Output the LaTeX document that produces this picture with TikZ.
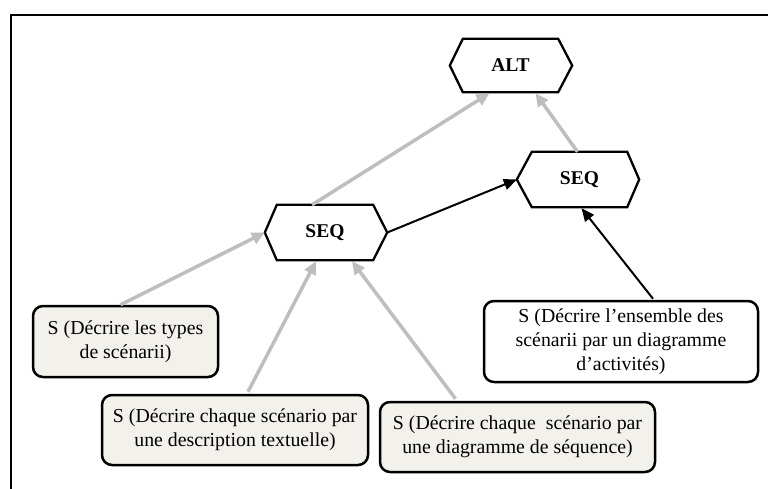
\documentclass[tikz,border=0pt]{standalone}
\usepackage{fontspec}
\setmainfont{Liberation Serif}
\usetikzlibrary{arrows.meta,calc,backgrounds}
\definecolor{boxfill}{HTML}{F2F1EC}
\definecolor{arrgrey}{HTML}{BEBEBE}
\tikzset{
  hexlabel/.style={rectangle,draw=none,inner sep=0pt,font=\fontsize{19.5}{23}\selectfont\bfseries},
  hexline/.style={draw=black,line width=2.3pt,line join=miter,fill=white},
  taskbox/.style={rectangle,rounded corners=10pt,draw=black,line width=2.5pt,fill=boxfill,
    align=center,inner sep=2pt,font=\fontsize{19.8}{24}\selectfont},
  greyarrow/.style={draw=arrgrey,line width=3.5pt,-{Triangle[length=13pt,width=12pt]}},
  blackarrow/.style={draw=black,line width=2pt,-{Triangle[length=13pt,width=11pt]}},
}
\begin{document}
\begin{tikzpicture}[x=1pt,y=-1pt]
\useasboundingbox (0,0) rectangle (768,488);
\begin{scope}
\clip (0,0) rectangle (768,488);
\draw[line width=2.5pt] (11,500) -- (11,15) -- (780,15);
\end{scope}

% hexagon label nodes
\node[hexlabel,minimum width=95pt,minimum height=53pt] (alt) at (510.5,65.5) {ALT};
\node[hexlabel,minimum width=96pt,minimum height=55pt] (seqa) at (325,232.5) {SEQ};
\node[hexlabel,minimum width=95pt,minimum height=55pt] (seqb) at (579.5,179.5) {SEQ};

% hexagon tips
\coordinate (altL) at ($(alt.west)+(-13,0)$);
\coordinate (altR) at ($(alt.east)+(14,0)$);
\coordinate (seqaL) at ($(seqa.west)+(-12,0)$);
\coordinate (seqaR) at ($(seqa.east)+(14,0)$);
\coordinate (seqbL) at ($(seqb.west)+(-15,0)$);
\coordinate (seqbR) at ($(seqb.east)+(12,0)$);

\begin{scope}[on background layer]
\foreach \n/\l/\r in {alt/altL/altR, seqa/seqaL/seqaR, seqb/seqbL/seqbR}{
  \draw[hexline] (\n.north west) -- (\n.north east) -- (\r) -- (\n.south east) -- (\n.south west) -- (\l) -- cycle;
}
\end{scope}

% boxes
\node[taskbox,minimum width=185pt,minimum height=71pt] (b1) at (125.5,341.5) {S (Décrire les types\\de scénarii)};
\node[taskbox,minimum width=266pt,minimum height=70pt] (b2) at (235,430) {S (Décrire chaque scénario par\\une description textuelle)};
\node[taskbox,minimum width=275pt,minimum height=70pt] (b3) at (517.5,437) {S (Décrire chaque\ \ scénario par\\une diagramme de séquence)};
\node[taskbox,fill=white,minimum width=274pt,minimum height=81pt] (b4) at (621,341.5) {S (Décrire l’ensemble des\\scénarii par un diagramme\\d’activités)};

% connection points
\coordinate (b1t) at ($(b1.north)+(-5,0)$);
\coordinate (b2t) at ($(b2.north)+(13,-2)$);
\coordinate (b3t) at ($(b3.north)+(-62,-2)$);
\coordinate (b4t) at ($(b4.north)+(32,-1)$);
\coordinate (seqaB1) at ($(seqa.south)+(-9,1)$);
\coordinate (seqaB2) at ($(seqa.south)+(27,1)$);
\coordinate (seqaT) at ($(seqa.north)+(-13,0)$);
\coordinate (seqbT) at ($(seqb.north)+(-2,0)$);
\coordinate (seqbB) at ($(seqb.south)+(2,1)$);
\coordinate (altB1) at ($(alt.south)+(-21,1)$);
\coordinate (altB2) at ($(alt.south)+(25,1)$);

% grey arrows
\draw[greyarrow] (b1t) -- (seqaL);
\draw[greyarrow] (b2t) -- (seqaB1);
\draw[greyarrow] (b3t) -- (seqaB2);
\draw[greyarrow] (seqaT) -- (altB1);
\draw[greyarrow] (seqbT) -- (altB2);

% black arrows
\draw[blackarrow] (seqaR) -- (seqbL);
\draw[blackarrow] (b4t) -- (seqbB);
\end{tikzpicture}
\end{document}
